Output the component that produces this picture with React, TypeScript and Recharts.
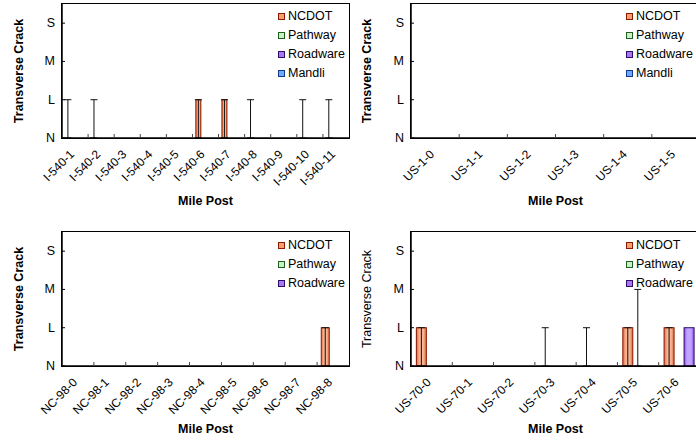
import React from 'react';
import { BarChart, Bar, XAxis, YAxis, ErrorBar, Legend } from 'recharts';

// severity levels on the y axis
const levels = ['N', 'L', 'M', 'S'];

// I-540 section
const i540Posts = ['I-540-1', 'I-540-2', 'I-540-3', 'I-540-4', 'I-540-5', 'I-540-6', 'I-540-7', 'I-540-8', 'I-540-9', 'I-540-10', 'I-540-11'];
const i540Ncdot = [0, 0, 0, 0, 0, 1, 1, 0, 0, 0, 0];
const i540NcdotErr = [[0, 1], [0, 1], null, null, null, [1, 0], [1, 0], [0, 1], null, [0, 1], [0, 1]];
const i540Pathway = [0, 0, 0, 0, 0, 0, 0, 0, 0, 0, 0];
const i540Roadware = [0, 0, 0, 0, 0, 0, 0, 0, 0, 0, 0];
const i540Mandli = [0, 0, 0, 0, 0, 0, 0, 0, 0, 0, 0];

// US-1 section
const us1Posts = ['US-1-0', 'US-1-1', 'US-1-2', 'US-1-3', 'US-1-4', 'US-1-5'];
const us1Ncdot = [0, 0, 0, 0, 0, 0];
const us1Pathway = [0, 0, 0, 0, 0, 0];
const us1Roadware = [0, 0, 0, 0, 0, 0];
const us1Mandli = [0, 0, 0, 0, 0, 0];

// NC-98 section
const nc98Posts = ['NC-98-0', 'NC-98-1', 'NC-98-2', 'NC-98-3', 'NC-98-4', 'NC-98-5', 'NC-98-6', 'NC-98-7', 'NC-98-8'];
const nc98Ncdot = [0, 0, 0, 0, 0, 0, 0, 0, 1];
const nc98NcdotErr = [null, null, null, null, null, null, null, null, [1, 0]];
const nc98Pathway = [0, 0, 0, 0, 0, 0, 0, 0, 0];
const nc98Roadware = [0, 0, 0, 0, 0, 0, 0, 0, 0];

// US-70 section
const us70Posts = ['US-70-0', 'US-70-1', 'US-70-2', 'US-70-3', 'US-70-4', 'US-70-5', 'US-70-6'];
const us70Ncdot = [1, 0, 0, 0, 0, 1, 1];
const us70NcdotErr = [[1, 0], null, null, [0, 1], [0, 1], [1, 0], [1, 0]];
const us70Pathway = [0, 0, 0, 0, 0, 0, 0];
const us70PathwayErr = [null, null, null, null, null, [0, 2], null];
const us70Roadware = [0, 0, 0, 0, 0, 0, 1];

const FONT = '"Liberation Sans", Arial, sans-serif';

interface SeriesDef {
  name: string;
  values: number[];
  errors?: (number[] | null)[];
}

const colors: { [k: string]: { light: string; dark: string; edge: string; box: string } } = {
  NCDOT: { light: '#f9b493', dark: '#d96a3e', edge: '#8b1a00', box: '#f4a070' },
  Pathway: { light: '#e4fae4', dark: '#a8e0a8', edge: '#1e5e1e', box: '#c8f0c8' },
  Roadware: { light: '#c4a2ff', dark: '#8450e6', edge: '#2e0e6a', box: '#a878f0' },
  Mandli: { light: '#a8ccff', dark: '#4f8cf0', edge: '#143a8a', box: '#70a8ff' },
};

const makeXTick = (band: number) => (props: any) => {
  const { x, y, payload } = props;
  const tx = x;
  const ty = y + 17;
  return (
    <g>
      <line x1={x - band / 2} x2={x - band / 2} y1={y} y2={y - 4} stroke="#444" />
      <text x={tx} y={ty} transform={`rotate(-45, ${tx}, ${ty})`} textAnchor="end" fontSize={12} fill="#000" fontFamily={FONT}>
        {payload.value}
      </text>
    </g>
  );
};

const makeYTick = (axisX: number) => (props: any) => {
  const { y, payload } = props;
  return (
    <g>
      <line x1={axisX} x2={axisX + 3} y1={y} y2={y} stroke="#000" />
      <text x={axisX - 7} y={y} textAnchor="end" dominantBaseline="central" fontSize={12.5} fill="#000" fontFamily={FONT}>
        {levels[payload.value]}
      </text>
    </g>
  );
};

const makeShape = (id: string, edge: string) => (p: any) =>
  p.height > 0.5 ? (
    <rect x={p.x} y={p.y} width={p.width} height={p.height} fill={`url(#${id})`} stroke={edge} strokeWidth={1} />
  ) : (
    <g />
  );

const LegendBox = ({ names }: { names: string[] }) => (
  <div style={{ fontFamily: FONT, fontSize: 12.5, lineHeight: '19px', color: '#000' }}>
    {names.map(n => (
      <div key={n} style={{ display: 'flex', alignItems: 'center', whiteSpace: 'nowrap' }}>
        <span style={{ display: 'inline-block', width: 5, height: 5, background: colors[n].box, border: `1px solid ${colors[n].edge}` }} />
        <span style={{ marginLeft: 3 }}>{n}</span>
      </div>
    ))}
  </div>
);

interface PanelProps {
  id: string;
  left: number;
  top: number;
  width: number;
  marginTop: number;
  marginRight: number;
  yAxisWidth: number;
  xAxisHeight: number;
  posts: string[];
  series: SeriesDef[];
  boldTitle: boolean;
  legendTop: number;
}

const Panel = (p: PanelProps) => {
  const height = 221;
  const plotWidth = p.width - p.marginRight - p.yAxisWidth;
  const plotHeight = height - p.marginTop - p.xAxisHeight;
  const band = plotWidth / p.posts.length;
  const rows = p.posts.map((name, i) => {
    const row: any = { name };
    p.series.forEach((s, k) => {
      row['s' + k] = s.values[i];
      if (s.errors && s.errors[i]) row['e' + k] = s.errors[i];
    });
    return row;
  });

  return (
    <div style={{ position: 'absolute', left: p.left, top: p.top, width: p.width, height }}>
      <BarChart
        width={p.width}
        height={height}
        data={rows}
        margin={{ top: p.marginTop, right: p.marginRight, left: 0, bottom: 0 }}
        barCategoryGap="13%"
        barGap={0}
        style={{ fontFamily: FONT }}
      >
        <defs>
          {p.series.map(s => (
            <linearGradient key={s.name} id={`${p.id}-${s.name}`} x1="0" y1="0" x2="1" y2="0">
              <stop offset="0" stopColor={colors[s.name].dark} />
              <stop offset="0.3" stopColor={colors[s.name].light} />
              <stop offset="0.5" stopColor={colors[s.name].light} />
              <stop offset="0.7" stopColor={colors[s.name].light} />
              <stop offset="1" stopColor={colors[s.name].dark} />
            </linearGradient>
          ))}
        </defs>
        <XAxis
          dataKey="name"
          interval={0}
          height={p.xAxisHeight}
          tickSize={0}
          tickMargin={0}
          tickLine={false}
          axisLine={{ stroke: '#000', strokeWidth: 1.5 }}
          tick={makeXTick(band)}
          label={(lp: any) => {
            const vb = lp.viewBox;
            return (
              <text x={vb.x + vb.width / 2} y={vb.y + 67} textAnchor="middle" fontSize={12.5} fontWeight="bold" fontFamily={FONT} fill="#000">
                Mile Post
              </text>
            );
          }}
        />
        <YAxis
          type="number"
          domain={[0, 3.5]}
          ticks={[0, 1, 2, 3]}
          width={p.yAxisWidth}
          tickSize={0}
          tickMargin={0}
          tickLine={false}
          axisLine={{ stroke: '#000', strokeWidth: 1.5 }}
          tick={makeYTick(p.yAxisWidth)}
          label={(lp: any) => {
            const vb = lp.viewBox;
            const cx = 19;
            const cy = vb.y + vb.height / 2;
            return (
              <text x={cx} y={cy} transform={`rotate(-90, ${cx}, ${cy})`} textAnchor="middle" dominantBaseline="central" fontSize={12.5} fontWeight={p.boldTitle ? 'bold' : 'normal'} fontFamily={FONT} fill="#000">
                Transverse Crack
              </text>
            );
          }}
        />
        {p.series.map((s, k) => (
          <Bar key={s.name} dataKey={'s' + k} name={s.name} isAnimationActive={false} shape={makeShape(`${p.id}-${s.name}`, colors[s.name].edge)}>
            {s.errors && <ErrorBar dataKey={'e' + k} width={3.5} stroke="#111" strokeWidth={1} direction="y" />}
          </Bar>
        ))}
        <Legend
          layout="horizontal"
          verticalAlign="middle"
          align="center"
          wrapperStyle={{ left: 278, top: p.legendTop, width: 'auto', height: 'auto' }}
          content={() => <LegendBox names={p.series.map(s => s.name)} />}
        />
      </BarChart>
      {/* plot frame */}
      <div
        style={{
          position: 'absolute',
          left: p.yAxisWidth - 0.75,
          top: p.marginTop - 0.75,
          width: plotWidth + 1.5,
          height: plotHeight + 1.5,
          border: '1.5px solid #000',
          boxSizing: 'border-box',
          pointerEvents: 'none',
        }}
      />
    </div>
  );
};

export default function App() {
  return (
    <div style={{ position: 'absolute', left: 0, top: 0, width: 696, height: 442, overflow: 'hidden', background: '#fff' }}>
      <Panel
        id="p1"
        left={0}
        top={0}
        width={352}
        marginTop={4}
        marginRight={3}
        yAxisWidth={62}
        xAxisHeight={83}
        posts={i540Posts}
        boldTitle
        legendTop={7}
        series={[
          { name: 'NCDOT', values: i540Ncdot, errors: i540NcdotErr },
          { name: 'Pathway', values: i540Pathway },
          { name: 'Roadware', values: i540Roadware },
          { name: 'Mandli', values: i540Mandli },
        ]}
      />
      <Panel
        id="p2"
        left={348}
        top={0}
        width={356}
        marginTop={4}
        marginRight={4}
        yAxisWidth={63}
        xAxisHeight={83}
        posts={us1Posts}
        boldTitle
        legendTop={7}
        series={[
          { name: 'NCDOT', values: us1Ncdot },
          { name: 'Pathway', values: us1Pathway },
          { name: 'Roadware', values: us1Roadware },
          { name: 'Mandli', values: us1Mandli },
        ]}
      />
      <Panel
        id="p3"
        left={0}
        top={221}
        width={352}
        marginTop={11}
        marginRight={3}
        yAxisWidth={62}
        xAxisHeight={76}
        posts={nc98Posts}
        boldTitle
        legendTop={15}
        series={[
          { name: 'NCDOT', values: nc98Ncdot, errors: nc98NcdotErr },
          { name: 'Pathway', values: nc98Pathway },
          { name: 'Roadware', values: nc98Roadware },
        ]}
      />
      <Panel
        id="p4"
        left={348}
        top={221}
        width={356}
        marginTop={11}
        marginRight={4}
        yAxisWidth={63}
        xAxisHeight={76}
        posts={us70Posts}
        boldTitle={false}
        legendTop={15}
        series={[
          { name: 'NCDOT', values: us70Ncdot, errors: us70NcdotErr },
          { name: 'Pathway', values: us70Pathway, errors: us70PathwayErr },
          { name: 'Roadware', values: us70Roadware },
        ]}
      />
    </div>
  );
}
